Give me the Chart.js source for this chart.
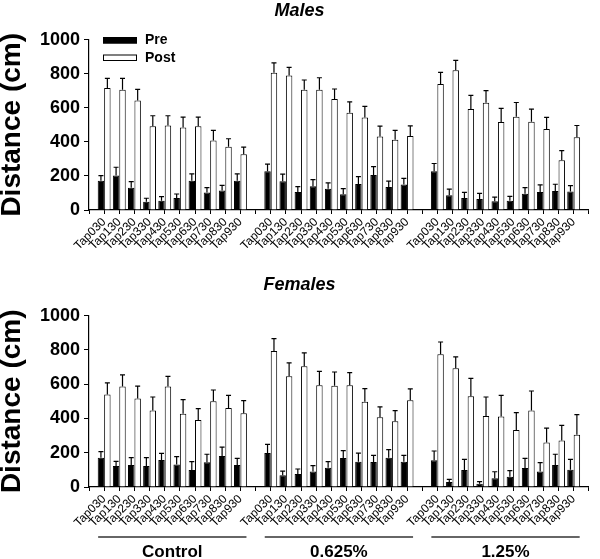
<!DOCTYPE html>
<html>
<head>
<meta charset="utf-8">
<script src="https://cdn.jsdelivr.net/npm/chart.js@4"></script>
<style>
  body { margin: 0; background: #fff; }
  #wrap { position: relative; width: 600px; height: 559px; }
  canvas { position: absolute; left: 0; }
</style>
</head>
<body>
<div id="wrap">
  <canvas id="males" width="600" height="270" style="top:0"></canvas>
  <canvas id="females" width="600" height="289" style="top:270px"></canvas>
</div>
<script>
const taps = ["Tap030", "Tap130", "Tap230", "Tap330", "Tap430", "Tap530", "Tap630", "Tap730", "Tap830", "Tap930"];
const groups = ["Control", "0.625%", "1.25%"];
const yTicks = [0, 200, 400, 600, 800, 1000];

// Control, 0.625%, 1.25% - 10 taps each
const malePre = [172, 202, 131, 49, 55, 71, 172, 102, 114, 172,
                 227, 169, 106, 139, 124, 92, 153, 206, 135, 149,
                 227, 86, 71, 65, 51, 55, 96, 106, 112, 108];
const malePreErr = [30, 49, 36, 20, 23, 23, 40, 29, 31, 40,
                    42, 41, 31, 39, 35, 33, 43, 49, 34, 37,
                    46, 36, 33, 33, 24, 25, 35, 41, 39, 35];
const malePost = [716, 706, 643, 492, 496, 484, 492, 408, 371, 327,
                  806, 790, 706, 706, 651, 571, 543, 431, 412, 435,
                  739, 820, 592, 629, 516, 547, 518, 475, 292, 427];
const malePostErr = [57, 67, 65, 61, 57, 61, 53, 59, 47, 42,
                     57, 47, 57, 70, 59, 64, 65, 61, 55, 59,
                     69, 58, 81, 71, 80, 84, 74, 68, 57, 69];

const femalePre = [171, 123, 128, 123, 158, 132, 99, 144, 181, 128,
                   198, 68, 76, 91, 113, 169, 148, 146, 171, 148,
                   156, 29, 99, 19, 51, 60, 111, 91, 128, 101];
const femalePreErr = [35, 27, 43, 48, 38, 45, 49, 47, 52, 39,
                      51, 25, 29, 34, 35, 43, 50, 39, 47, 37,
                      54, 16, 62, 12, 38, 35, 56, 51, 63, 60];
const femalePost = [539, 586, 516, 447, 586, 428, 391, 500, 461, 430,
                    794, 646, 704, 593, 591, 593, 498, 407, 383, 506,
                    774, 693, 529, 414, 412, 333, 446, 259, 272, 305];
const femalePostErr = [68, 68, 72, 78, 60, 82, 66, 66, 74, 74,
                       72, 78, 78, 82, 80, 74, 76, 60, 63, 66,
                       72, 66, 105, 111, 123, 101, 114, 85, 88, 117];

Chart.defaults.font.family = "'Liberation Sans', Arial, sans-serif";
Chart.defaults.color = "#000";

// empty slot before, between and after the groups
function pad(arr) {
    const out = [null];
    groups.forEach((g, i) => {
        if (i > 0) out.push(null);
        out.push(...arr.slice(i * taps.length, (i + 1) * taps.length));
    });
    out.push(null);
    return out;
}
const labels = pad(groups.flatMap(() => taps)).map(l => l === null ? "" : l);

const errorBars = {
    id: "errorBars",
    afterDatasetsDraw(chart) {
        const ctx = chart.ctx;
        const y = chart.scales.y;
        ctx.save();
        ctx.strokeStyle = "#000";
        ctx.lineWidth = 1.2;
        chart.data.datasets.forEach((ds, i) => {
            chart.getDatasetMeta(i).data.forEach((bar, j) => {
                const v = ds.data[j];
                if (v === null) return;
                const top = y.getPixelForValue(v + ds.errors[j]);
                ctx.beginPath();
                ctx.moveTo(bar.x, bar.y);
                ctx.lineTo(bar.x, top);
                ctx.moveTo(bar.x - 2.5, top);
                ctx.lineTo(bar.x + 2.5, top);
                ctx.stroke();
            });
        });
        ctx.restore();
    }
};

const insideLegend = {
    id: "insideLegend",
    afterDraw(chart) {
        const ctx = chart.ctx;
        const x0 = chart.chartArea.left + 14;
        ctx.save();
        ctx.font = "bold 14px 'Liberation Sans', Arial, sans-serif";
        ctx.textBaseline = "middle";
        chart.data.datasets.forEach((ds, i) => {
            const yb = 37 + i * 17.5;
            ctx.fillStyle = ds.backgroundColor;
            ctx.fillRect(x0, yb, 34, 6.5);
            ctx.strokeStyle = "#000";
            ctx.lineWidth = 1;
            ctx.strokeRect(x0 + 0.5, yb + 0.5, 33, 5.5);
            ctx.fillStyle = "#000";
            ctx.fillText(ds.label, x0 + 42, yb + 3.5);
        });
        ctx.restore();
    }
};

const groupLabels = {
    id: "groupLabels",
    afterDraw(chart) {
        const ctx = chart.ctx;
        const x = chart.scales.x;
        ctx.save();
        ctx.strokeStyle = "#333";
        ctx.lineWidth = 1.5;
        ctx.fillStyle = "#000";
        ctx.font = "bold 17px 'Liberation Sans', Arial, sans-serif";
        ctx.textAlign = "center";
        ctx.textBaseline = "middle";
        groups.forEach((g, i) => {
            const first = 1 + i * (taps.length + 1);
            const x1 = x.getPixelForValue(first) - 6;
            const x2 = x.getPixelForValue(first + taps.length - 1) + 6;
            ctx.beginPath();
            ctx.moveTo(x1, 267);
            ctx.lineTo(x2, 267);
            ctx.stroke();
            ctx.fillText(g, (x1 + x2) / 2, 282);
        });
        ctx.restore();
    }
};

function makeChart(id, title, pre, preErr, post, postErr, xHeight, titlePad, extra) {
    return new Chart(document.getElementById(id), {
        type: "bar",
        data: {
            labels: labels,
            datasets: [{
                label: "Pre",
                data: pad(pre),
                errors: pad(preErr),
                backgroundColor: "#000",
                borderColor: "#000",
                borderWidth: 1
            }, {
                label: "Post",
                data: pad(post),
                errors: pad(postErr),
                backgroundColor: "#fff",
                borderColor: "#000",
                borderWidth: 1
            }]
        },
        options: {
            responsive: false,
            animation: false,
            devicePixelRatio: 1,
            layout: { padding: { left: 0, right: 1, top: 0, bottom: 0 } },
            datasets: { bar: { categoryPercentage: 0.85, barPercentage: 1.0 } },
            plugins: {
                legend: { display: false },
                tooltip: { enabled: false },
                title: {
                    display: true,
                    text: title,
                    font: { size: 18, weight: "bold", style: "italic" },
                    padding: titlePad
                }
            },
            scales: {
                x: {
                    offset: false,
                    grid: { display: true, drawOnChartArea: false, offset: false, tickLength: 4, color: "#000" },
                    border: { color: "#000", width: 1.2 },
                    ticks: { autoSkip: false, minRotation: 45, maxRotation: 45, padding: 1, font: { size: 12 } },
                    afterFit(scale) { scale.height = xHeight; }
                },
                y: {
                    min: 0,
                    max: 1000,
                    afterBuildTicks(scale) { scale.ticks = yTicks.map(v => ({ value: v })); },
                    grid: { display: true, drawOnChartArea: false, tickLength: 5, color: "#000" },
                    border: { color: "#000", width: 1.2 },
                    ticks: {
                        padding: 4,
                        font: { size: 18, weight: "bold" },
                        callback: v => String(v)
                    },
                    title: {
                        display: true,
                        text: "Distance (cm)",
                        padding: 0,
                        font: { size: 28, weight: "bold", lineHeight: 0.9 }
                    },
                    afterFit(scale) { scale.width = 89; }
                }
            }
        },
        plugins: [errorBars].concat(extra)
    });
}

makeChart("males", "Males", malePre, malePreErr, malePost, malePostErr, 60,
    { top: 0, bottom: 18 }, [insideLegend]);
makeChart("females", "Females", femalePre, femalePreErr, femalePost, femalePostErr, 72,
    { top: 4, bottom: 20 }, [groupLabels]);
</script>
</body>
</html>
